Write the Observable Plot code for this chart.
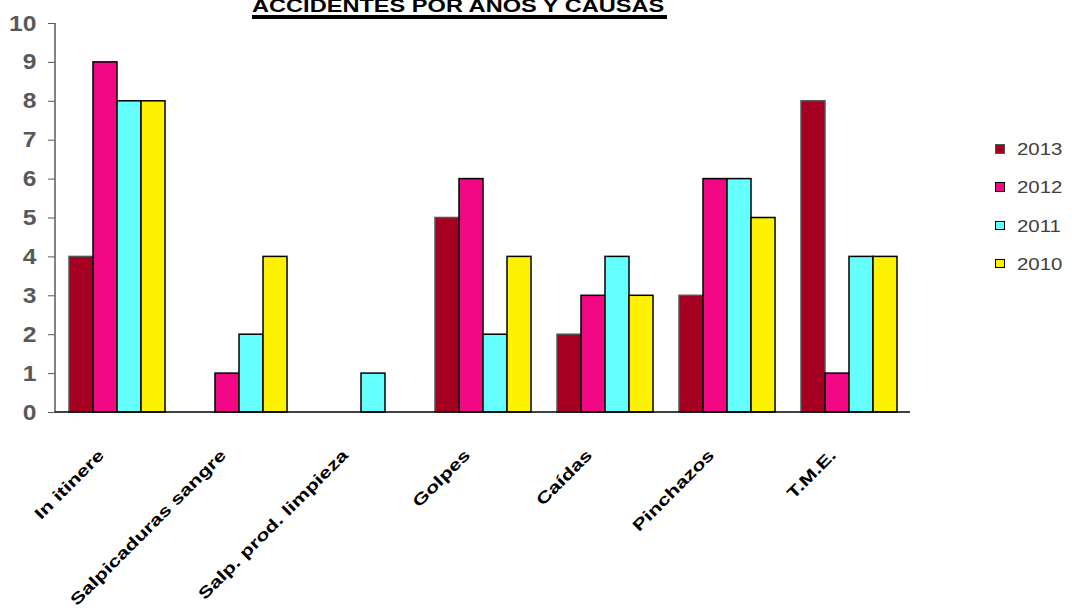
<!DOCTYPE html>
<html>
<head>
<meta charset="utf-8">
<script src="https://cdn.jsdelivr.net/npm/d3@7"></script>
<script src="https://cdn.jsdelivr.net/npm/@observablehq/plot@0.6"></script>
<style>
  html, body { margin: 0; padding: 0; background: #fff; }
  #wrap { position: relative; width: 1072px; height: 613px; overflow: hidden; font-family: "Liberation Sans", Arial, sans-serif; }
  #title { position: absolute; left: 252px; top: -3px; font-size: 18px; line-height: 18px; font-weight: bold; color: #000; white-space: nowrap; transform: scaleX(1.31); transform-origin: 0 0; }
  #uline { position: absolute; left: 252px; top: 15px; width: 415px; height: 3.5px; background: #000; }
  #legend { position: absolute; left: 995px; top: 144px; }
  .li { position: absolute; left: 0; height: 12px; white-space: nowrap; }
  .sw { position: absolute; left: 0; top: 0; width: 7.5px; height: 7.5px; border: 1.5px solid #000; }
  .lt { position: absolute; left: 22px; top: -3px; font-size: 17px; line-height: 17px; color: #404040; transform: scaleX(1.2); transform-origin: 0 0; }
</style>
</head>
<body>
<div id="wrap">
  <div id="chart"></div>
  <div id="title">ACCIDENTES POR AÑOS Y CAUSAS</div>
  <div id="uline"></div>
  <div id="legend"></div>
</div>
<script>
const categories = ["In itinere", "Salpicaduras sangre", "Salp. prod. limpieza", "Golpes", "Caídas", "Pinchazos", "T.M.E."];
const years = ["2013", "2012", "2011", "2010"];
const colors = ["#A50021", "#F20884", "#66FFFF", "#FFF200"];
const strokes = ["#555555", "#000000", "#000000", "#000000"];
const v2013 = [4, 0, 0, 5, 2, 3, 8];
const v2012 = [9, 1, 0, 6, 3, 6, 1];
const v2011 = [8, 2, 1, 2, 4, 6, 4];
const v2010 = [8, 4, 0, 4, 3, 5, 4];
const yTicks = [0, 1, 2, 3, 4, 5, 6, 7, 8, 9, 10];

const series = [v2013, v2012, v2011, v2010];
const data = [];
categories.forEach((c, i) => {
  years.forEach((yr, j) => {
    data.push({cat: c, year: yr, value: series[j][i]});
  });
});
const shown = data.filter(d => d.value > 0);

const W = 1072, H = 613, mL = 55, mR = 162, mT = 23, mB = 201;

const plot = Plot.plot({
  width: W,
  height: H,
  marginLeft: mL,
  marginRight: mR,
  marginTop: mT,
  marginBottom: mB,
  style: {fontFamily: "'Liberation Sans', Arial, sans-serif", background: "#fff"},
  fx: {domain: categories, paddingInner: 0.2, paddingOuter: 0.1, axis: null},
  x: {domain: years, padding: 0, axis: null},
  y: {domain: [0, 10], axis: null},
  color: {domain: years, range: colors},
  marks: [
    Plot.barY(shown, {
      fx: "cat", x: "year", y: "value",
      fill: "year",
      stroke: d => strokes[years.indexOf(d.year)],
      strokeWidth: 1.5
    }),
    Plot.axisY({
      ticks: yTicks, tickSize: 7, tickPadding: 12,
      fontSize: 22, fontWeight: "bold", color: "#595959", stroke: "#595959",
      tickFormat: d => String(d), label: null
    }),
    Plot.axisFx({
      anchor: "bottom", tickRotate: -45, tickSize: 0, tickPadding: 40,
      fontSize: 16, fontWeight: "bold", fill: "#000", label: null, dx: -16
    })
  ]
});

// horizontal stretch of text along its baseline, as in the reference
function stretch(sel, s) {
  sel.each(function() {
    const t = this.getAttribute("transform");
    if (t) {
      this.setAttribute("transform", t + ` scale(${s},1)`);
    } else {
      const x = +(this.getAttribute("x") || 0), y = +(this.getAttribute("y") || 0);
      this.removeAttribute("x"); this.removeAttribute("y");
      this.setAttribute("transform", `translate(${x},${y}) scale(${s},1)`);
    }
  });
}
const svg = d3.select(plot);
stretch(svg.selectAll('g[aria-label="y-axis tick label"] text'), 1.12);
stretch(svg.selectAll('g[aria-label="fx-axis tick label"] text'), 1.36);

// the y axis sits on the first facet's band; move it to the frame's left edge
const ys = plot.scale("y");
const fxs = plot.scale("fx");
const shift = mL - fxs.apply(categories[0]);
svg.selectAll('g[aria-label="y-axis tick"], g[aria-label="y-axis tick label"]').each(function() {
  const t = this.getAttribute("transform") || "";
  this.setAttribute("transform", `translate(${shift},0) ${t}`);
});

// axis lines using the plot's own scales
svg.append("line")
  .attr("x1", mL).attr("x2", mL)
  .attr("y1", ys.apply(10)).attr("y2", ys.apply(0))
  .attr("stroke", "#595959").attr("stroke-width", 1.5);
svg.append("line")
  .attr("x1", mL).attr("x2", W - mR)
  .attr("y1", ys.apply(0)).attr("y2", ys.apply(0))
  .attr("stroke", "#000").attr("stroke-width", 1.5);

document.getElementById("chart").appendChild(plot);

const legend = document.getElementById("legend");
years.forEach((yr, j) => {
  const li = document.createElement("div");
  li.className = "li";
  li.style.top = (j * 38.3) + "px";
  const sw = document.createElement("div");
  sw.className = "sw";
  sw.style.background = colors[j];
  sw.style.borderColor = strokes[j];
  const t = document.createElement("div");
  t.className = "lt";
  t.textContent = yr;
  li.appendChild(sw);
  li.appendChild(t);
  legend.appendChild(li);
});
</script>
</body>
</html>
